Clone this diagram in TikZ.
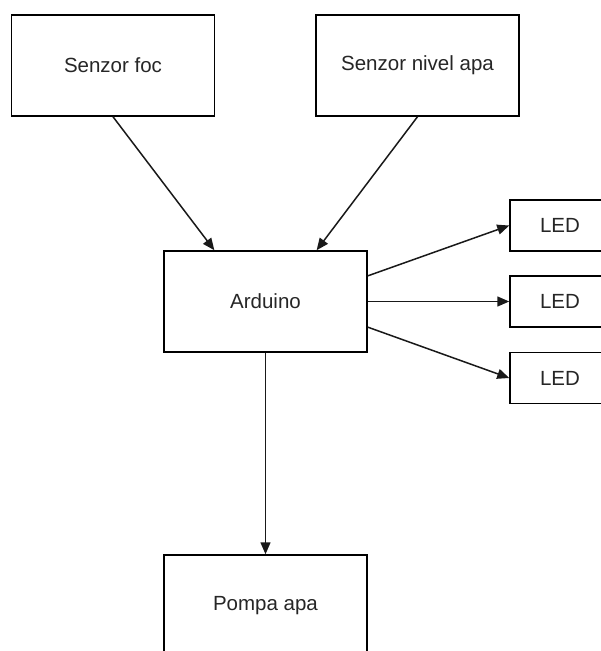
\documentclass[tikz,border=0pt]{standalone}
\usepackage{fontspec}
\setmainfont{Liberation Sans}
\usetikzlibrary{arrows.meta,calc}
\begin{document}
\begin{tikzpicture}[x=1pt,y=-1pt,
  box/.style={draw=black,line width=1.5pt,fill=white,minimum width=203pt,minimum height=101pt,inner sep=0pt,font=\fontsize{20.5}{24}\selectfont,text=black!85},
  ledbox/.style={box,minimum width=100pt,minimum height=51pt},
  conn/.style={draw=black!90,line width=1.5pt,-{Triangle[length=12pt,width=10pt]}}]
\useasboundingbox (0,0) rectangle (601,651);
\clip (0,0) rectangle (601,651);
\node[box] (foc) at (113,65.5) {Senzor foc};
\node[box] (nivel) at (417.5,65.5) {Senzor nivel apa};
\node[box] (ard) at (265.5,301.5) {Arduino};
\node[ledbox] (led1) at (560,225.5) {LED};
\node[ledbox] (led2) at (560,301.5) {LED};
\node[ledbox] (led3) at (560,378) {LED};
\node[box] (pompa) at (265.5,605.5) {Pompa apa};
\coordinate (a1) at ($(ard.north west)!0.25!(ard.north east)$);
\coordinate (a2) at ($(ard.north west)!0.75!(ard.north east)$);
\coordinate (r1) at ($(ard.north east)!0.25!(ard.south east)$);
\coordinate (r3) at ($(ard.north east)!0.75!(ard.south east)$);
\draw[conn] (foc.south) -- (a1);
\draw[conn] (nivel.south) -- (a2);
\draw[conn] (r1) -- (led1.west);
\draw[conn] (ard.east) -- (led2.west);
\draw[conn] (r3) -- (led3.west);
\draw[conn] (ard.south) -- (pompa.north);
\end{tikzpicture}
\end{document}
